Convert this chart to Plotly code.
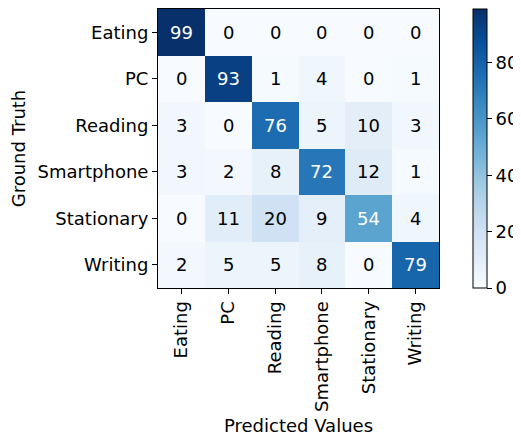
import plotly.graph_objects as go

labels = ["Eating", "PC", "Reading", "Smartphone", "Stationary", "Writing"]
values = [
    [99, 0, 0, 0, 0, 0],
    [0, 93, 1, 4, 0, 1],
    [3, 0, 76, 5, 10, 3],
    [3, 2, 8, 72, 12, 1],
    [0, 11, 20, 9, 54, 4],
    [2, 5, 5, 8, 0, 79],
]
colorbar_ticks = [0, 20, 40, 60, 80]

zmax = max(max(r) for r in values)
thresh = zmax / 2.0
FS = 18

fig = go.Figure()
fig.add_trace(go.Heatmap(
    z=values, x=labels, y=labels,
    colorscale="Blues", zmin=0, zmax=zmax,
    xgap=0, ygap=0,
    colorbar=dict(
        x=(473 - 158) / 281, xanchor="left", xref="paper",
        y=0.5, yanchor="middle", len=1.0, lenmode="fraction",
        thickness=14, thicknessmode="pixels",
        outlinewidth=1, outlinecolor="black",
        tickvals=colorbar_ticks, ticks="outside", ticklen=5, tickcolor="black",
        tickfont=dict(family="DejaVu Sans", size=FS, color="black"),
        xpad=0, ypad=0,
    ),
))

annotations = []
for i, row in enumerate(values):
    for j, v in enumerate(row):
        annotations.append(dict(
            x=labels[j], y=labels[i], text=str(v), showarrow=False,
            font=dict(family="DejaVu Sans", size=FS,
                      color="white" if v > thresh else "black"),
        ))

fig.update_layout(
    width=521, height=439,
    margin=dict(l=150, r=90, t=1, b=159, autoexpand=False),
    paper_bgcolor="white", plot_bgcolor="white",
    font=dict(family="DejaVu Sans", size=FS, color="black"),
    annotations=annotations,
    xaxis=dict(
        tickangle=-90, ticks="outside", ticklen=5, tickcolor="black",
        showline=True, linecolor="black", linewidth=1, mirror=True,
        showgrid=False, zeroline=False,
        title=dict(text="Predicted Values", standoff=8,
                   font=dict(family="DejaVu Sans", size=FS)),
        tickfont=dict(family="DejaVu Sans", size=FS),
    ),
    yaxis=dict(
        autorange="reversed", ticks="outside", ticklen=5, tickcolor="black",
        showline=True, linecolor="black", linewidth=1, mirror=True,
        showgrid=False, zeroline=False,
        title=dict(text="Ground Truth", standoff=8,
                   font=dict(family="DejaVu Sans", size=FS)),
        tickfont=dict(family="DejaVu Sans", size=FS),
    ),
)

fig.write_html("out.html")
